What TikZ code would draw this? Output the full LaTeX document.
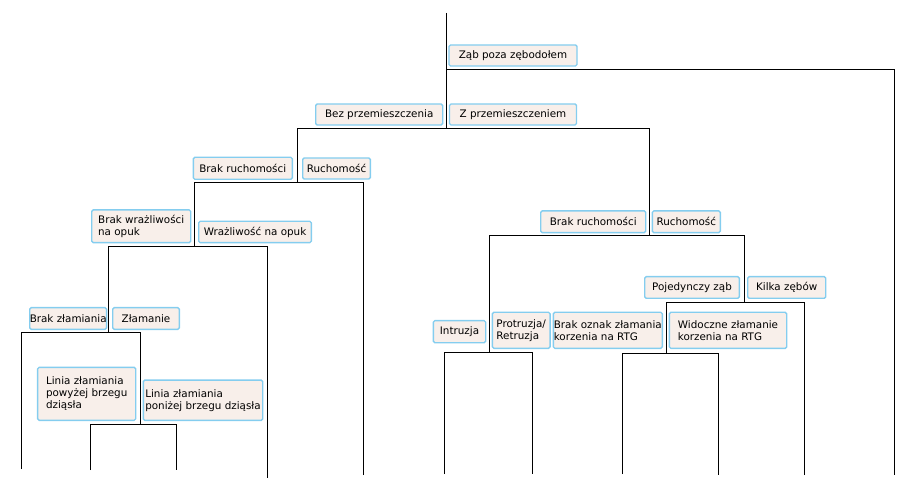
\documentclass[tikz,border=0pt]{standalone}
\usepackage{fontspec}
\setmainfont{DejaVu Sans}
\definecolor{boxblue}{HTML}{84CDEF}
\definecolor{boxfill}{HTML}{F8EFEA}
\begin{document}
\begin{tikzpicture}[x=1bp,y=-1bp,
  lbl/.style={draw=boxblue, fill=boxfill, line width=1.4bp, rounded corners=1.5bp,
    inner sep=0pt, align=left, font=\fontsize{10.4}{12}\selectfont},
  branch/.style={draw=black, line width=1bp}]
\useasboundingbox (0,0) rectangle (901,478);
% junction coordinates
\coordinate (r0) at (446,13);
\coordinate (r1) at (446,70);
\coordinate (r2) at (446,129);
\coordinate (a1) at (894,70);
\coordinate (a2) at (894,475);
\coordinate (b1) at (297,129);
\coordinate (b2) at (649,129);
\coordinate (c0) at (297,183);
\coordinate (c1) at (194,183);
\coordinate (c2) at (363,183);
\coordinate (c2b) at (363,475);
\coordinate (d0) at (194,247);
\coordinate (d1) at (108,247);
\coordinate (d2) at (267,247);
\coordinate (d2b) at (267,478);
\coordinate (e0) at (108,332);
\coordinate (e1) at (21,332);
\coordinate (e2) at (140,332);
\coordinate (e1b) at (21,469);
\coordinate (f0) at (140,424);
\coordinate (f1) at (90,424);
\coordinate (f2) at (176,424);
\coordinate (f1b) at (90,470);
\coordinate (f2b) at (176,470);
\coordinate (g0) at (649,236);
\coordinate (g1) at (489,236);
\coordinate (g2) at (744,236);
\coordinate (h0) at (489,352);
\coordinate (h1) at (444,352);
\coordinate (h2) at (532,352);
\coordinate (h1b) at (444,474);
\coordinate (h2b) at (532,474);
\coordinate (i0) at (744,303);
\coordinate (i1) at (666,303);
\coordinate (i2) at (804,303);
\coordinate (i2b) at (804,475);
\coordinate (j0) at (666,353);
\coordinate (j1) at (622,353);
\coordinate (j2) at (718,353);
\coordinate (j1b) at (622,474);
\coordinate (j2b) at (718,475);
% connectors
\draw[branch] (r0) -- (r2);
\draw[branch] (r1) -- (a1) -- (a2);
\draw[branch] (c0) -- (b1) -- (b2) -- (g0);
\draw[branch] (c2b) -- (c2) -- (c1) -- (d0);
\draw[branch] (d2b) -- (d2) -- (d1) -- (e0);
\draw[branch] (e1b) -- (e1) -- (e2) -- (f0);
\draw[branch] (f1b) -- (f1) -- (f2) -- (f2b);
\draw[branch] (h0) -- (g1) -- (g2) -- (i0);
\draw[branch] (h1b) -- (h1) -- (h2) -- (h2b);
\draw[branch] (i2b) -- (i2) -- (i1) -- (j0);
\draw[branch] (j1b) -- (j1) -- (j2) -- (j2b);
% labels
\node[lbl, minimum width=128bp, minimum height=21bp] (zab) at (513,55.5) {Ząb poza zębodołem};
\node[lbl, minimum width=127bp, minimum height=21bp] (bez) at (379.2,114.5) {Bez przemieszczenia};
\node[lbl, minimum width=127bp, minimum height=21bp] (zprz) at (513,114.5) {Z przemieszczeniem};
\node[lbl, minimum width=99bp, minimum height=22bp] (lbrak) at (242.8,168.3) {Brak ruchomości};
\node[lbl, minimum width=67.6bp, minimum height=21bp] (lruch) at (336.5,168.5) {Ruchomość};
\node[lbl, minimum width=99bp, minimum height=32.7bp] (lbw) at (141.2,226.3) {Brak wrażliwości\\na opuk};
\node[lbl, minimum width=112.6bp, minimum height=21.4bp] (lw) at (255,232) {Wrażliwość na opuk};
\node[lbl, minimum width=73.7bp, minimum height=21.6bp] (lbz) at (68.2,318.5) {Brak złamiania};
\node[lbl, minimum width=66.6bp, minimum height=21.6bp] (lz) at (146,318.5) {Złamanie};
\node[lbl, minimum width=98bp, minimum height=53bp] (lpow) at (86.7,393.8) {Linia złamiania\\powyżej brzegu\\dziąsła};
\node[lbl, minimum width=119.4bp, minimum height=40.3bp] (lpon) at (203,400.2) {Linia złamiania\\poniżej brzegu dziąsła};
\node[lbl, minimum width=105bp, minimum height=21.7bp] (rbrak) at (593.2,221.8) {Brak ruchomości};
\node[lbl, minimum width=68bp, minimum height=21.7bp] (rruch) at (686.3,221.8) {Ruchomość};
\node[lbl, minimum width=94.6bp, minimum height=21.6bp] (poj) at (692,287.5) {Pojedynczy ząb};
\node[lbl, minimum width=78bp, minimum height=21.6bp] (kilka) at (786.7,287.5) {Kilka zębów};
\node[lbl, minimum width=52.4bp, minimum height=22bp] (intr) at (459.5,331.7) {Intruzja};
\node[lbl, minimum width=57.7bp, minimum height=36bp] (prot) at (521.2,330.3) {Protruzja/\\Retruzja};
\node[lbl, minimum width=109bp, minimum height=36bp] (brako) at (607.8,330.3) {Brak oznak złamania\\korzenia na RTG};
\node[lbl, minimum width=117.4bp, minimum height=36bp] (wid) at (728,330.3) {Widoczne złamanie\\korzenia na RTG};
\end{tikzpicture}
\end{document}
